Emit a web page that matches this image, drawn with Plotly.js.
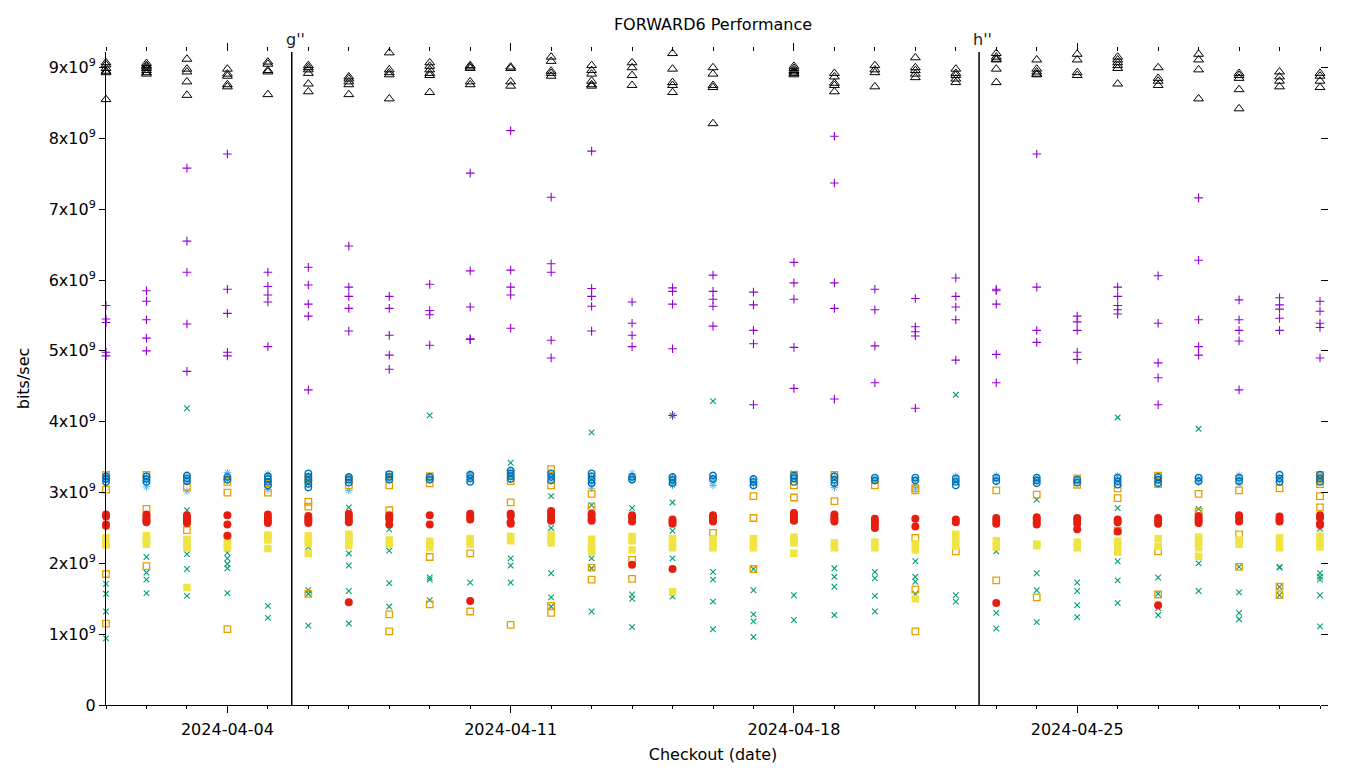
<!DOCTYPE html>
<html>
<head>
<meta charset="utf-8">
<script src="https://cdn.plot.ly/plotly-3.0.1.min.js"></script>
<style>
  html, body { margin: 0; padding: 0; background: #ffffff; }
  #chart { width: 1360px; height: 768px; }
</style>
</head>
<body>
<div id="chart"></div>
<script>
// ---- Data (values in units of 1e9 bits/sec) ----
const dates = [
  '2024-04-01','2024-04-02','2024-04-03','2024-04-04','2024-04-05','2024-04-06','2024-04-07',
  '2024-04-08','2024-04-09','2024-04-10','2024-04-11','2024-04-12','2024-04-13','2024-04-14',
  '2024-04-15','2024-04-16','2024-04-17','2024-04-18','2024-04-19','2024-04-20','2024-04-21',
  '2024-04-22','2024-04-23','2024-04-24','2024-04-25','2024-04-26','2024-04-27','2024-04-28',
  '2024-04-29','2024-04-30','2024-05-01'
];

const purplePlus = [
  [5.64,5.45,5.40,4.98,4.93],[5.85,5.70,5.44,5.18,5.00],[7.58,6.55,6.11,5.38,4.71],
  [7.78,5.87,5.53,4.98,4.93],[6.11,5.91,5.79,5.69,5.06],[6.18,5.93,5.66,5.49,4.45],
  [6.48,5.90,5.77,5.60,5.28],[5.77,5.60,5.22,4.94,4.74],[5.94,5.57,5.51,5.08],
  [7.51,6.13,5.62,5.17,5.16],[8.11,6.14,5.90,5.79,5.32],[7.17,6.23,6.11,5.15,4.90],
  [7.82,5.88,5.77,5.63,5.28],[5.69,5.39,5.22,5.06],[5.89,5.84,5.66,5.03,4.09],
  [6.07,5.84,5.73,5.63,5.35],[5.83,5.65,5.29,5.10,4.24],[6.25,5.96,5.73,5.05,4.47],
  [8.03,7.37,5.96,5.60,4.32],[5.87,5.58,5.07,4.55],[5.74,5.34,5.27,5.21,4.19],
  [6.03,5.77,5.62,5.44,4.87],[5.87,5.85,5.66,4.95,4.55],[7.78,5.90,5.29,5.12],
  [5.49,5.41,5.29,4.98,4.88],[5.90,5.77,5.64,5.58,5.52],[6.06,5.39,4.83,4.62,4.24],
  [7.16,6.28,5.44,5.06,4.94],[5.72,5.44,5.29,5.14,4.45],[5.75,5.65,5.59,5.46,5.29],
  [5.70,5.56,5.39,5.33,4.90]
];

const tealX = [
  [1.71,1.57,1.32,0.94],[2.09,1.87,1.77,1.58],[4.19,2.75,2.13,1.92,1.54],
  [2.15,2.07,1.99,1.93,1.58],[1.40,1.23],[2.23,1.62,1.57,1.12],
  [2.79,2.14,1.97,1.61,1.15],[2.48,2.18,1.72,1.39],[4.09,1.80,1.77,1.48],
  [1.73],[3.42,2.07,1.97,1.73],[2.95,2.50,1.86,1.52,1.39],
  [3.85,2.82,2.07,1.93,1.32],[2.78,1.56,1.50,1.10],[4.09,2.86,2.46,2.07,1.53],
  [4.29,1.88,1.77,1.46,1.07],[1.92,1.62,1.28,1.18,0.96],[3.27,1.55,1.20],
  [1.93,1.81,1.67,1.27],[1.88,1.79,1.54,1.32],[2.03,1.81,1.74,1.57],
  [4.38,1.55,1.46],[2.17,1.30,1.08],[2.90,1.86,1.62,1.17],
  [1.73,1.61,1.41,1.24],[4.06,2.78,2.03,1.76,1.44],[1.80,1.57,1.37,1.27],
  [3.90,2.77,2.00,1.61],[1.95,1.59,1.30,1.21],[1.95,1.94,1.67,1.55],
  [2.49,1.86,1.81,1.77,1.55,1.11]
];

const lightBlueStar = [
  [3.24,3.20,3.17],[3.22,3.17,3.08],[3.22,3.15,3.02],[3.28,3.23,3.18],[3.26,3.16,3.04],
  [3.24,3.18,3.14],[3.22,3.15,3.03],[3.24,3.19],[3.22,3.18],[3.27,3.23,3.18],
  [3.30,3.25,3.21],[3.26,3.20],[3.22,3.13,3.06],[3.27,3.22,3.18],[3.21,3.14,3.10],
  [3.21,3.15,3.10],[3.18,3.12],[3.24,3.19],[3.22,3.10,3.07],[3.20,3.16],
  [3.18,3.11,3.05],[3.23,3.17],[3.24,3.18],[3.21,3.16],[3.19,3.15],
  [3.24,3.18],[3.20,3.15],[3.20,3.15],[3.24,3.19,3.12],[3.21,3.16],[3.25,3.19]
];

const orangeSquare = [
  [3.25,3.04,1.85,1.15],[3.25,2.77,1.96],[3.08,2.47],[3.15,3.00,1.07],[3.13,3.00],
  [3.19,2.87,2.80,1.57],[3.19,3.10],[3.25,3.10,2.75,1.28,1.04],[3.23,3.13,2.09,1.42],[2.14,1.32],
  [3.16,2.86,1.13],[3.33,3.10,1.40,1.30],[2.98,2.80,1.94,1.77],[2.05,1.78],[],
  [2.43],[2.95,2.64,1.92],[3.25,3.10,2.93,2.62],[3.25,2.88],[3.10],
  [3.06,3.03,2.36,1.63,1.04],[2.17],[3.03,1.76],[2.97,1.52],[3.20,3.11],
  [3.06,2.92,2.46],[3.24,3.12,2.17,1.56],[2.98,2.73],[3.03,2.41,1.95],[3.06,1.67,1.55],
  [3.25,3.18,3.12,2.95,2.79]
];

const yellowSquare = [
  [2.36,2.33,2.29,2.26],[2.39,2.35,2.31,2.27],[2.34,2.30,2.26,2.22,1.66],[2.38,2.33,2.27,2.22],
  [2.40,2.37,2.33,2.21],[2.39,2.34,2.28,2.14],[2.41,2.36,2.31,2.25],[2.33,2.27],
  [2.31,2.27,2.22],[2.35,2.31,2.27],[2.38,2.32],[2.40,2.35,2.29],
  [2.34,2.28,2.22,2.16],[2.38,2.32,2.19],[2.35,2.28,2.22,1.60],[2.34,2.28,2.22],
  [2.35,2.28,2.22],[2.37,2.33,2.29,2.14],[2.29,2.22],[2.30,2.22],
  [2.28,2.19,1.50],[2.41,2.33,2.24],[2.32,2.23],[2.27,2.25],
  [2.30,2.22],[2.31,2.23,2.16],[2.35,2.24],[2.37,2.29,2.22,2.10],
  [2.33,2.27],[2.36,2.29,2.22],[2.38,2.30,2.23]
];

const blueCircle = [
  [3.23,3.19,3.15],[3.23,3.19,3.15],[3.24,3.20,3.16],[3.22,3.18],[3.23,3.19,3.15,3.10],
  [3.27,3.22,3.17,3.12,3.07],[3.22,3.18,3.14],[3.26,3.22,3.18],[3.22,3.18],[3.25,3.20,3.15],
  [3.31,3.27,3.23,3.19],[3.27,3.22,3.17],[3.27,3.23,3.18,3.13],[3.22,3.18],[3.22,3.18,3.13],
  [3.24,3.19],[3.19,3.15,3.10],[3.24,3.20,3.15],[3.23,3.18,3.13],[3.21,3.17],
  [3.21,3.17],[3.20,3.15,3.10],[3.21,3.16],[3.21,3.17,3.13],[3.18,3.14],
  [3.21,3.16,3.11],[3.22,3.18,3.13],[3.21,3.16],[3.21,3.16],[3.25,3.20,3.15],
  [3.25,3.20,3.15]
];

const redCircle = [
  [2.69,2.66,2.55,2.53],[2.69,2.66,2.63,2.60,2.58],[2.68,2.65,2.62,2.59,2.57],[2.68,2.55,2.39],
  [2.69,2.65,2.61,2.57],[2.67,2.63,2.60,2.57],[2.70,2.66,2.62,2.58,1.45],[2.68,2.65,2.62,2.55],
  [2.68,2.55],[2.70,2.66,2.62,1.47],[2.70,2.67,2.58,2.56],[2.74,2.70,2.66,2.62,2.60],
  [2.70,2.66,2.62,2.60],[2.68,2.64,2.59,1.98],[2.62,2.59,2.56,1.92],[2.68,2.65,2.62,2.59],
  [],[2.71,2.67,2.63,2.60],[2.69,2.65,2.62,2.59],[2.63,2.59,2.55,2.50],
  [2.63,2.52],[2.62,2.58],[2.64,2.60,2.56,1.44],[2.65,2.62,2.58,2.55],
  [2.64,2.60,2.56,2.48],[2.62,2.58,2.45],[2.64,2.60,2.56,1.41],[2.67,2.63,2.60,2.57],
  [2.68,2.64,2.59],[2.66,2.62,2.59],[2.68,2.64,2.56,2.54]
];

const blackTriangle = [
  [9.07,9.04,8.99,8.95,8.93,8.55],[9.06,9.03,9.01,8.99,8.96,8.93,8.91],[9.12,8.98,8.94,8.80,8.61],
  [8.98,8.91,8.88,8.76,8.73],[9.08,9.05,8.96,8.94,8.62],[9.03,9.00,8.97,8.92,8.77,8.66],
  [8.87,8.84,8.80,8.76,8.62],[9.21,8.97,8.93,8.90,8.56],[9.07,9.02,8.97,8.92,8.89,8.65],
  [9.03,9.01,8.99,8.80,8.76],[9.01,8.99,8.80,8.74],[9.15,9.09,8.95,8.92,8.88],
  [9.03,8.96,8.91,8.81,8.76,8.74],[9.07,9.00,8.89,8.75],[9.20,8.98,8.79,8.75,8.65],
  [9.00,8.91,8.75,8.72,8.21],[],[9.02,8.99,8.96,8.94,8.92,8.90],
  [8.92,8.87,8.78,8.75,8.66],[9.03,8.97,8.93,8.73],[9.14,9.00,8.96,8.91,8.86],
  [8.98,8.92,8.89,8.84,8.79],[9.20,9.15,9.12,9.11,8.98,8.79],[9.11,8.98,8.94,8.91,8.90],
  [9.19,9.11,8.93,8.89],[9.15,9.11,9.07,9.03,8.99,8.77],[9.00,8.85,8.81,8.75],
  [9.19,9.11,8.97,8.56],[8.92,8.89,8.85,8.69,8.42],[8.94,8.87,8.81,8.73],
  [8.92,8.88,8.81,8.72]
];

const yTickValues = [0,1,2,3,4,5,6,7,8,9];
const xMajorTicks = ['2024-04-04','2024-04-11','2024-04-18','2024-04-25'];
const markers = [
  { label: 'g\'\'', at: '2024-04-05 14:10' },
  { label: 'h\'\'', at: '2024-04-22 13:48' }
];

// ---- Build ----
const SCALE = 1e9;
function flatten(vals) {
  const x = [], y = [];
  vals.forEach((arr, i) => arr.forEach(v => { x.push(dates[i]); y.push(v * SCALE); }));
  return { x, y };
}
function series(vals, name, symbol, color, size, lineWidth) {
  const d = flatten(vals);
  const filled = !/open/.test(symbol);
  return {
    type: 'scatter', mode: 'markers', name: name, x: d.x, y: d.y,
    cliponaxis: false, hoverinfo: 'x+y',
    marker: {
      symbol: symbol, size: size, color: color,
      line: { color: color, width: filled ? 0 : lineWidth }
    }
  };
}

const traces = [
  series(purplePlus, 'purple', 'cross-thin-open', '#9400D3', 6.2, 1.1),
  series(tealX, 'teal', 'x-thin-open', '#009E73', 5.6, 1.1),
  series(lightBlueStar, 'lightblue', 'asterisk-open', '#56B4E9', 6.5, 1),
  series(orangeSquare, 'orange', 'square-open', '#E69F00', 6.5, 1.3),
  series(yellowSquare, 'yellow', 'square', '#F0E442', 7.5, 0),
  series(blueCircle, 'blue', 'circle-open', '#0072B2', 6.5, 1.4),
  series(redCircle, 'red', 'circle', '#E51E10', 8, 0),
  series(blackTriangle, 'black', 'triangle-up-open', '#000000', 8.6, 1),
  { type: 'scatter', mode: 'markers', x: [dates[0]], y: [null], xaxis: 'x2', yaxis: 'y2',
    showlegend: false, hoverinfo: 'skip' }
];

const FONT = 'DejaVu Sans, Liberation Sans, sans-serif';
const xRange = ['2024-04-01', '2024-05-01'];
const yRange = [0, 9.22e9];

const layout = {
  width: 1360, height: 768,
  margin: { l: 106, r: 40, t: 52, b: 63 },
  paper_bgcolor: '#ffffff', plot_bgcolor: '#ffffff',
  showlegend: false,
  font: { family: FONT, size: 16, color: '#000000' },
  title: {
    text: 'FORWARD6 Performance',
    font: { family: FONT, size: 16, color: '#000000' },
    x: 0.5, xref: 'paper', y: 1 - 24 / 768, yref: 'container', yanchor: 'middle'
  },
  xaxis: {
    type: 'date', range: xRange,
    showline: true, linecolor: '#000000', linewidth: 1,
    showgrid: false, zeroline: false,
    ticks: 'outside', ticklen: 7, tickcolor: '#000000', tickwidth: 1,
    tickvals: xMajorTicks, tickformat: '%Y-%m-%d', ticklabelstandoff: 3,
    tickfont: { family: FONT, size: 16, color: '#000000' },
    minor: { dtick: 86400000, tick0: '2024-04-01', ticks: 'outside', ticklen: 3, tickcolor: '#000000', tickwidth: 1, showgrid: false },
    title: { text: 'Checkout (date)', font: { family: FONT, size: 16, color: '#000000' }, standoff: 10 }
  },
  yaxis: {
    range: yRange,
    showline: true, linecolor: '#000000', linewidth: 1,
    showgrid: false, zeroline: false,
    ticks: 'outside', ticklen: 6, tickcolor: '#000000', tickwidth: 1,
    tickvals: yTickValues.map(v => v * SCALE),
    ticktext: yTickValues.map(v => v === 0 ? '0' : v + 'x10<sup>9</sup>'),
    tickfont: { family: FONT, size: 16, color: '#000000' },
    title: { text: 'bits/sec', font: { family: FONT, size: 16, color: '#000000' }, standoff: 15 }
  },
  xaxis2: {
    type: 'date', range: xRange, overlaying: 'x', side: 'top',
    showline: false, showgrid: false, zeroline: false, showticklabels: false,
    ticks: 'outside', ticklen: 8, tickcolor: '#000000', tickwidth: 1,
    tickvals: xMajorTicks,
    minor: { dtick: 86400000, tick0: '2024-04-01', ticks: 'outside', ticklen: 4, tickcolor: '#000000', tickwidth: 1, showgrid: false }
  },
  yaxis2: {
    range: yRange, overlaying: 'y', side: 'right',
    showline: false, showgrid: false, zeroline: false, showticklabels: false,
    ticks: 'outside', ticklen: 7, tickcolor: '#000000', tickwidth: 1,
    tickvals: yTickValues.map(v => v * SCALE)
  },
  shapes: markers.map(m => ({
    type: 'line', xref: 'x', yref: 'paper', x0: m.at, x1: m.at, y0: 0, y1: 1,
    line: { color: '#000000', width: 1.5 }
  })),
  annotations: markers.map(m => ({
    text: m.label, xref: 'x', yref: 'paper', x: m.at, y: 1 + 12 / 653,
    xanchor: 'left', yanchor: 'middle', xshift: -8, showarrow: false,
    font: { family: FONT, size: 16, color: '#222222' }
  }))
};

Plotly.newPlot('chart', traces, layout, { displayModeBar: false, staticPlot: true });
</script>
</body>
</html>
